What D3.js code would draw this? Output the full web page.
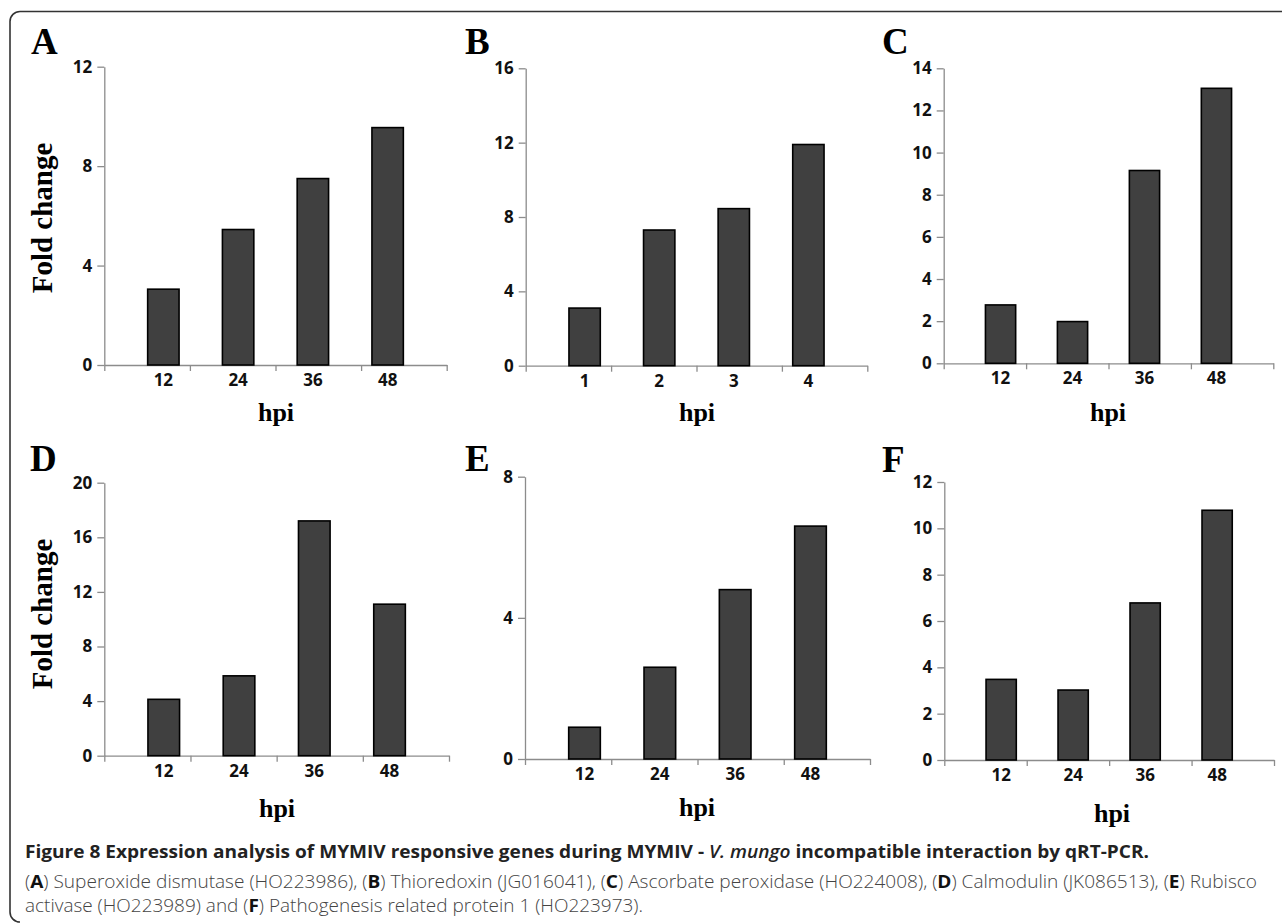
<!DOCTYPE html>
<html lang="en">
<head>
<meta charset="UTF-8">
<title>Figure 8</title>
<script src="https://d3js.org/d3.v7.min.js"></script>
<style>
  body { margin: 0; background: #fff; }
  svg { display: block; }
  .bar { fill: #404040; stroke: #000; stroke-width: 1.6; }
  .serif { font-family: "Liberation Serif", "Times New Roman", serif; font-weight: 700; fill: #000; }
  .cap1 { font-family: "Open Sans", sans-serif; font-weight: 700; font-size: 18.5px; fill: #222; }
  .cap2 { font-family: "Open Sans", sans-serif; font-weight: 300; font-size: 17.5px; fill: #444; }
</style>
</head>
<body>
<svg width="1282" height="923"></svg>
<script>
// categories
const hpiHours = ["12", "24", "36", "48"];
const hpiDays = ["1", "2", "3", "4"];

// fold change values
const valuesA = [3.05, 5.45, 7.5, 9.55];
const valuesB = [3.1, 7.3, 8.45, 11.9];
const valuesC = [2.77, 1.98, 9.15, 13.05];
const valuesD = [4.13, 5.85, 17.2, 11.1];
const valuesE = [0.9, 2.6, 4.8, 6.6];
const valuesF = [3.48, 3.02, 6.78, 10.78];

// y tick labels
const ticksA = [0, 4, 8, 12];
const ticksB = [0, 4, 8, 12, 16];
const ticksC = [0, 2, 4, 6, 8, 10, 12, 14];
const ticksD = [0, 4, 8, 12, 16, 20];
const ticksE = [0, 4, 8];
const ticksF = [0, 2, 4, 6, 8, 10, 12];

const svg = d3.select("svg");

// outer frame (top and left edges only, rounded corners)
svg.append("path")
    .attr("d", "M1282,11.5 H20 A10,10 0 0 0 10,21.5 V912 A10,10 0 0 0 20,922")
    .attr("fill", "none")
    .attr("stroke", "#333")
    .attr("stroke-width", 1.6);

// panel layout
const panels = [
    { name: "A", cats: hpiHours, vals: valuesA, ticks: ticksA, x0: 104.3, x1: 446.7, top: 66.7, zero: 365, lx: 31, ly: 54, hx: 276, hy: 420.5, fold: 218 },
    { name: "B", cats: hpiDays, vals: valuesB, ticks: ticksB, x0: 525.7, x1: 867.3, top: 68.3, zero: 365.7, lx: 465, ly: 54, hx: 697, hy: 421 },
    { name: "C", cats: hpiHours, vals: valuesC, ticks: ticksC, x0: 943.7, x1: 1273.3, top: 68.3, zero: 363.3, lx: 882, ly: 54, hx: 1108, hy: 420.5 },
    { name: "D", cats: hpiHours, vals: valuesD, ticks: ticksD, x0: 104.3, x1: 449, top: 482.7, zero: 755.7, lx: 30, ly: 470.5, hx: 277, hy: 816.5, fold: 614 },
    { name: "E", cats: hpiHours, vals: valuesE, ticks: ticksE, x0: 525, x1: 870, top: 476.7, zero: 759, lx: 465, ly: 471, hx: 697, hy: 816 },
    { name: "F", cats: hpiHours, vals: valuesF, ticks: ticksF, x0: 944.3, x1: 1274, top: 482, zero: 760, lx: 882, ly: 471.5, hx: 1112, hy: 821.5 }
];

function styleAxis(a) {
    a.selectAll(".tick line, .domain")
        .attr("stroke", "#8c8c8c")
        .attr("stroke-width", 1.3);
    a.selectAll(".tick text")
        .attr("fill", "#111")
        .style("font-family", "'Open Sans', sans-serif")
        .style("font-weight", "700")
        .style("font-size", "17px");
}

panels.forEach(p => {
    const g = svg.append("g");

    const x = d3.scaleBand()
        .domain(p.cats)
        .range([p.x0, p.x1])
        .padding(0.58);

    const y = d3.scaleLinear()
        .domain([0, d3.max(p.ticks)])
        .range([p.zero, p.top]);

    // category boundary ticks on the x axis
    const xEdge = d3.scaleLinear()
        .domain([0, p.cats.length])
        .range([p.x0, p.x1]);

    g.append("g")
        .attr("transform", `translate(0,${p.zero})`)
        .call(d3.axisBottom(xEdge).ticks(p.cats.length).tickSize(6).tickSizeOuter(0).tickFormat(""))
        .call(styleAxis);

    // category labels
    g.append("g")
        .attr("transform", `translate(0,${p.zero})`)
        .call(d3.axisBottom(x).tickSize(0).tickPadding(9))
        .call(a => a.select(".domain").remove())
        .call(styleAxis);

    g.append("g")
        .attr("transform", `translate(${p.x0},0)`)
        .call(d3.axisLeft(y).tickValues(p.ticks).tickSize(7).tickSizeOuter(0).tickPadding(5))
        .call(styleAxis);

    g.selectAll(".bar")
        .data(p.vals)
        .enter()
        .append("rect")
        .attr("class", "bar")
        .attr("x", (d, i) => x(p.cats[i]))
        .attr("y", d => y(d))
        .attr("width", x.bandwidth())
        .attr("height", d => p.zero - y(d));

    g.append("text")
        .attr("class", "serif")
        .attr("x", p.lx)
        .attr("y", p.ly)
        .style("font-size", "37px")
        .text(p.name);

    g.append("text")
        .attr("class", "serif")
        .attr("x", p.hx)
        .attr("y", p.hy)
        .attr("text-anchor", "middle")
        .style("font-size", "26px")
        .text("hpi");

    if (p.fold) {
        g.append("text")
            .attr("class", "serif")
            .attr("transform", `translate(52,${p.fold}) rotate(-90)`)
            .attr("text-anchor", "middle")
            .style("font-size", "29px")
            .text("Fold change");
    }
});

// caption
const cap1 = svg.append("text")
    .attr("class", "cap1")
    .attr("x", 25)
    .attr("y", 857.5)
    .attr("textLength", 1124)
    .attr("lengthAdjust", "spacingAndGlyphs");
cap1.append("tspan").text("Figure 8 Expression analysis of MYMIV responsive genes during MYMIV - ");
cap1.append("tspan").style("font-style", "italic").style("font-weight", 600).text("V. mungo");
cap1.append("tspan").text(" incompatible interaction by qRT-PCR.");

function captionLine(parts, yPos, len) {
    const t = svg.append("text")
        .attr("class", "cap2")
        .attr("x", 25)
        .attr("y", yPos)
        .attr("textLength", len)
        .attr("lengthAdjust", "spacingAndGlyphs");
    parts.forEach(s => {
        const b = /^[A-F]$/.test(s);
        t.append("tspan")
            .style("font-weight", b ? 700 : 300)
            .style("fill", b ? "#111" : "#444")
            .text(s);
    });
}

captionLine(["(", "A", ") Superoxide dismutase (HO223986), (", "B", ") Thioredoxin (JG016041), (", "C",
    ") Ascorbate peroxidase (HO224008), (", "D", ") Calmodulin (JK086513), (", "E", ") Rubisco"], 888, 1232);
captionLine(["activase (HO223989) and (", "F", ") Pathogenesis related protein 1 (HO223973)."], 912, 618);
</script>
</body>
</html>
